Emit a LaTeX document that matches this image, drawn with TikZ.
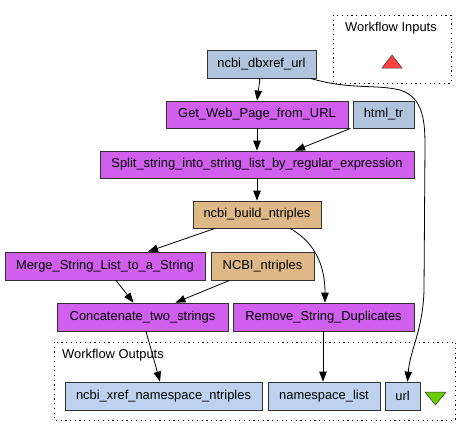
\documentclass[tikz,border=0pt]{standalone}
\usepackage{fontspec}
\setmainfont{Liberation Sans}
\usetikzlibrary{arrows.meta}
\definecolor{inblue}{HTML}{B0C4DE}
\definecolor{outblue}{HTML}{BCD2EE}
\definecolor{orchid}{HTML}{D15FEE}
\definecolor{burly}{HTML}{DEB887}
\definecolor{redtri}{HTML}{FF4040}
\definecolor{greentri}{HTML}{66CD00}
\begin{document}
\begin{tikzpicture}[x=1pt,y=-1pt,
  box/.style={draw=black!80,line width=0.8pt,inner sep=0pt,minimum height=27pt,font=\fontsize{12.9}{14}\selectfont,anchor=center},
  inport/.style={box,fill=inblue},
  outport/.style={box,fill=outblue},
  proc/.style={box,fill=orchid},
  bean/.style={box,fill=burly},
  group/.style={draw=black,line width=0.8pt,dash pattern=on 1.2pt off 3.5pt},
  lbl/.style={font=\fontsize{12.9}{14}\selectfont,inner sep=0pt},
  edge/.style={line width=0.8pt,-{Triangle[length=10pt,width=7.5pt]}}]
\useasboundingbox (0,0) rectangle (471,437);
% groups
\draw[group] (333,15) rectangle (451,83);
\node[lbl] (inlbl) at (391,28.5) {Workflow Inputs};
\draw[group] (54,342) rectangle (455,420);
\node[lbl] (outlbl) at (113,355.5) {Workflow Outputs};
\fill[redtri,draw=black!80,line width=0.5pt] (382,68) -- (402,68) -- (392,55) -- cycle;
\fill[greentri,draw=black!80,line width=0.5pt] (425,392) -- (446,392) -- (435.5,405) -- cycle;
% nodes
\node[inport,minimum width=109pt,minimum height=28pt] (dbxref) at (261.5,64) {ncbi\_dbxref\_url};
\node[proc,minimum width=182pt] (getweb) at (257,114.5) {Get\_Web\_Page\_from\_URL};
\node[inport,minimum width=61pt] (html) at (383.5,114.5) {html\_tr};
\node[proc,minimum width=314pt] (split) at (257,164.5) {Split\_string\_into\_string\_list\_by\_regular\_expression};
\node[bean,minimum width=128pt] (build) at (257,214.5) {ncbi\_build\_ntriples};
\node[proc,minimum width=200pt,minimum height=28pt] (merge) at (105,266) {Merge\_String\_List\_to\_a\_String};
\node[bean,minimum width=103pt,minimum height=28pt] (ncbint) at (262.5,266) {NCBI\_ntriples};
\node[proc,minimum width=171pt,minimum height=28pt] (concat) at (142.5,317) {Concatenate\_two\_strings};
\node[proc,minimum width=181pt,minimum height=28pt] (remove) at (323.5,317) {Remove\_String\_Duplicates};
\node[outport,minimum width=197pt,minimum height=28pt] (xref) at (163.5,396) {ncbi\_xref\_namespace\_ntriples};
\node[outport,minimum width=112pt,minimum height=28pt] (nslist) at (324,396) {namespace\_list};
\node[outport,minimum width=35pt,minimum height=28pt] (url) at (402.5,396) {url};
% edges
\draw[edge] ([xshift=-1.5pt]dbxref.south) -- ([xshift=0pt]getweb.north);
\draw[edge] ([xshift=-6pt]dbxref.south east) .. controls (350,90) and (375,84) .. (400,90)
   .. controls (422,97) and (425,118) .. (425,145) -- (424,290)
   .. controls (423,330) and (410,350) .. ([xshift=5pt]url.north);
\draw[edge] (getweb.south) -- (split.north);
\draw[edge] ([xshift=-33pt]html.south) -- ([xshift=38pt]split.north);
\draw[edge] (split.south) -- (build.north);
\draw[edge] ([xshift=-42pt]build.south) -- ([xshift=43pt]merge.north);
\draw[edge] ([xshift=33pt]build.south) .. controls (318,244) and (325,270) .. ([xshift=1.5pt]remove.north);
\draw[edge] ([xshift=11pt]merge.south) -- ([xshift=-9pt]concat.north);
\draw[edge] ([xshift=-33pt]ncbint.south) -- ([xshift=33pt]concat.north);
\draw[edge] ([xshift=3.5pt]concat.south) -- ([xshift=-3.5pt]xref.north);
\draw[edge] ([xshift=-0.5pt]remove.south) -- ([xshift=-1pt]nslist.north);
\end{tikzpicture}
\end{document}
